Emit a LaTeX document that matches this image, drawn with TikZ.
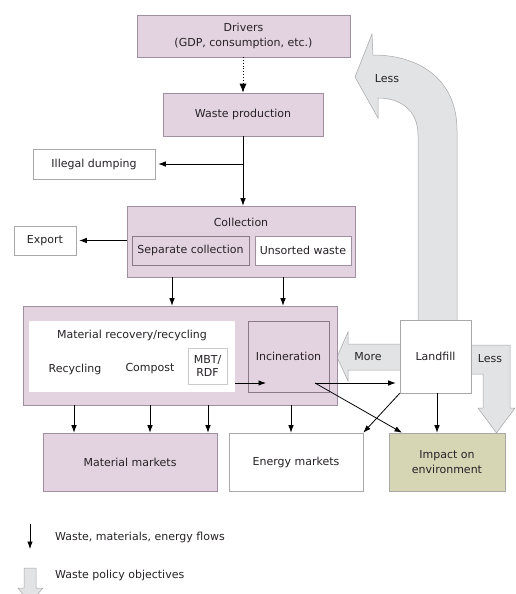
\documentclass[tikz,border=0pt]{standalone}
\usepackage{fontspec}
\setmainfont{DejaVu Sans}
\usetikzlibrary{arrows.meta}

\definecolor{mauve}{HTML}{E3D3E0}
\definecolor{mauveline}{HTML}{A08FA0}
\definecolor{mauvedark}{HTML}{8A7888}
\definecolor{boxline}{HTML}{A8A8A8}
\definecolor{olive}{HTML}{D6D5B4}
\definecolor{policy}{HTML}{E1E3E4}
\definecolor{policyline}{HTML}{A6A6A6}
\definecolor{ink}{HTML}{262226}

\tikzset{
  box/.style={draw=boxline, line width=0.6pt, fill=white, inner sep=0pt,
    align=center, text=ink, font=\fontsize{11}{14.5}\selectfont},
  mauvebox/.style={box, draw=mauveline, fill=mauve},
  innerbox/.style={box, draw=mauvedark, fill=mauve},
  label/.style={inner sep=0pt, text=ink, font=\fontsize{11}{14.5}\selectfont, align=center},
  flow/.style={draw=black, line width=0.8pt, -{Latex[length=7.5pt,width=5.5pt]}},
  policyarrow/.style={fill=policy, draw=policyline, line width=0.5pt},
}

\begin{document}
\begin{tikzpicture}[x=1pt, y=-1pt]
\useasboundingbox (0,0) rectangle (516,594);
\clip (0,0) rectangle (516,594);

% ---- policy objective arrows (behind the boxes) ----
\path[policyarrow]
  (418,322) -- (418,135) .. controls (418,110) and (400,98) .. (378,98)
  -- (378,118) -- (355,77) -- (372,34) -- (373,55)
  .. controls (420,55) and (457,80) .. (457,130) -- (457,322) -- cycle;
\path[policyarrow]
  (402,344) -- (348,344) -- (348,332) -- (337,357) -- (348,381) -- (348,370) -- (402,370) -- cycle;
\path[policyarrow]
  (469,345) -- (510,345) -- (510,408) -- (515,408) -- (496.5,433) -- (478,408)
  -- (483,408) -- (483,374) -- (469,374) -- cycle;

% ---- boxes ----
\node[mauvebox, minimum width=213pt, minimum height=42pt] (drivers) at (243.5,36)
  {Drivers\\(GDP, consumption, etc.)};
\node[mauvebox, minimum width=160pt, minimum height=43pt] (wasteprod) at (243,114.5)
  {Waste production};
\node[box, minimum width=122pt, minimum height=30pt] (illegal) at (94,164)
  {Illegal dumping};
\node[mauvebox, minimum width=228pt, minimum height=71pt] (collection) at (241,241.5) {};
\node[label] (collectiontxt) at (241,222) {Collection};
\node[innerbox, minimum width=117pt, minimum height=29pt] (sepcoll) at (190.5,250.5)
  {Separate collection};
\node[box, draw=mauveline, minimum width=96pt, minimum height=29pt] (unsorted) at (303,250.5)
  {Unsorted waste};
\node[box, minimum width=62pt, minimum height=29pt] (export) at (45,240.5) {Export};

\node[mauvebox, minimum width=314pt, minimum height=99pt] (treatment) at (180,355.5) {};
\node[box, draw=none, minimum width=206pt, minimum height=71pt] (matrec) at (132,356.5) {};
\node[label] (matrectxt) at (132,335) {Material recovery/recycling};
\node[label] (recycling) at (75,369) {Recycling};
\node[label] (compost) at (150,369) {Compost};
\node[box, draw=boxline!60, minimum width=39pt, minimum height=36pt,
  font=\fontsize{11}{13}\selectfont] (mbt) at (207.5,366) {MBT/\\RDF};
\node[innerbox, minimum width=81pt, minimum height=71pt] (incin) at (288.5,356.5)
  {Incineration};
\node[box, minimum width=71pt, minimum height=73pt] (landfill) at (435.5,356.5)
  {Landfill};

\node[mauvebox, minimum width=174pt, minimum height=58pt] (matmarket) at (130,462)
  {Material markets};
\node[box, minimum width=134pt, minimum height=58pt] (energy) at (296,462)
  {Energy markets};
\node[box, fill=olive, minimum width=116pt, minimum height=58pt] (impact) at (447,462)
  {Impact on\\environment};

% ---- policy arrow labels ----
\node[label] (lessup) at (387,79) {Less};
\node[label] (more) at (368,357) {More};
\node[label] (lessdown) at (490,359) {Less};

% ---- flows ----
\draw[line width=0.8pt, dotted, -{Latex[length=9pt,width=7pt]}]
  (drivers.south -| wasteprod.north) -- (wasteprod.north);
\coordinate (split) at (wasteprod.south |- illegal.east);
\draw[flow] (wasteprod.south) -- (wasteprod.south |- collection.north);
\draw[flow, shorten >=3pt] (split) -- (illegal.east);
\draw[flow, shorten >=3pt] (collection.west |- export.east) -- (export.east);

\draw[flow] (collection.south -| 172,0) -- (treatment.north -| 172,0);
\draw[flow] (collection.south -| 283,0) -- (treatment.north -| 283,0);

\draw[flow] (treatment.south -| 74,0) -- (matmarket.north -| 74,0);
\draw[flow] (treatment.south -| 150,0) -- (matmarket.north -| 150,0);
\draw[flow] (treatment.south -| 208,0) -- (matmarket.north -| 208,0);
\draw[flow] (treatment.south -| 291,0) -- (energy.north -| 291,0);

\coordinate (mbtout) at (matrec.east |- 0,383);
\coordinate (incinout) at (315,383);
\draw[flow] (mbtout) -- (266,383);
\draw[flow, shorten >=4pt] (incinout) -- (landfill.west |- incinout);
\draw[flow] (incinout) -- (impact.north west -| 402,0);
\draw[flow] (landfill.south west) -- (energy.north east);
\draw[flow] (landfill.south -| 437,0) -- (impact.north -| 437,0);

% ---- legend ----
\coordinate (legflowtop) at (30,524);
\coordinate (legflowbot) at (30,549);
\draw[flow] (legflowtop) -- (legflowbot);
\node[label, anchor=west] (legflow) at (55,537) {Waste, materials, energy flows};
\path[policyarrow] (24,568) -- (36,568) -- (36,588) -- (43,588) -- (30,603) -- (18,588) -- (24,588) -- cycle;
\node[label, anchor=west] (legpolicy) at (55,575) {Waste policy objectives};
\end{tikzpicture}
\end{document}
